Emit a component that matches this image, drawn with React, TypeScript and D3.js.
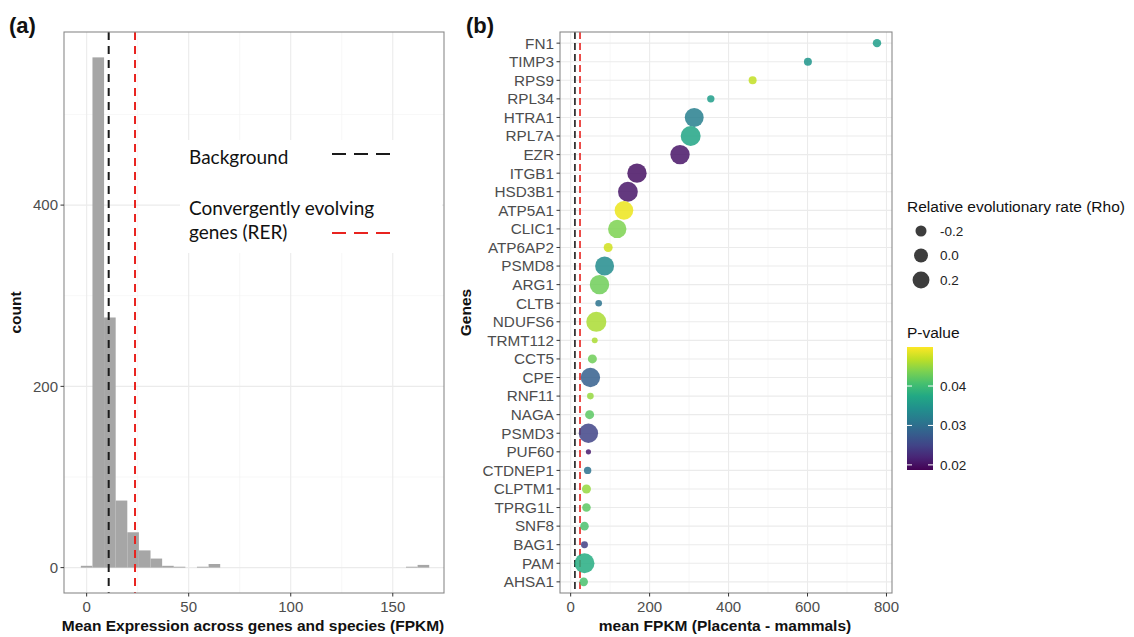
import React, { useRef, useEffect } from 'react';
import * as d3 from 'd3';

// (a) histogram of mean expression, 30 bins starting at -binWidth/2
const histBinWidth = 5.69;
const histCounts = [2, 563, 276, 74, 39, 19, 10, 2, 1, 0, 1, 4, 0, 0, 0, 0, 0, 0, 0, 0, 0, 0, 0, 0, 0, 0, 0, 0, 1, 3];
const histXTicks = [0, 50, 100, 150];
const histYTicks = [0, 200, 400];
const backgroundMean = 10.8;
const rerMean = 23.7;

// (b) genes
const genes = ['FN1', 'TIMP3', 'RPS9', 'RPL34', 'HTRA1', 'RPL7A', 'EZR', 'ITGB1', 'HSD3B1', 'ATP5A1', 'CLIC1', 'ATP6AP2', 'PSMD8', 'ARG1', 'CLTB', 'NDUFS6', 'TRMT112', 'CCT5', 'CPE', 'RNF11', 'NAGA', 'PSMD3', 'PUF60', 'CTDNEP1', 'CLPTM1', 'TPRG1L', 'SNF8', 'BAG1', 'PAM', 'AHSA1'];
const meanFpkm = [776, 601, 461, 355, 313, 304, 277, 168, 145, 135, 118, 95, 86, 73, 71, 65, 61, 55, 50, 50, 48, 45, 45, 43, 40, 40, 35, 35, 35, 33];
const rho = [-0.38, -0.41, -0.41, -0.45, 0.34, 0.41, 0.37, 0.37, 0.4, 0.32, 0.3, -0.34, 0.34, 0.37, -0.5, 0.42, -0.55, -0.34, 0.37, -0.5, -0.34, 0.37, -0.6, -0.45, -0.34, -0.37, -0.37, -0.48, 0.41, -0.37];
const pValue = [0.036, 0.035, 0.047, 0.036, 0.032, 0.037, 0.0203, 0.02, 0.0205, 0.049, 0.0437, 0.0477, 0.0337, 0.043, 0.0306, 0.046, 0.046, 0.043, 0.028, 0.045, 0.042, 0.025, 0.021, 0.0305, 0.045, 0.042, 0.041, 0.0245, 0.038, 0.041];
const fpkmTicks = [0, 200, 400, 600, 800];
const rhoLegend = [-0.2, 0.0, 0.2];
const pLegend = [0.02, 0.03, 0.04];

const SANS = 'Liberation Sans, Arial, sans-serif';

const App = () => {
  const ref = useRef(null);

  useEffect(() => {
    const svg = d3.select(ref.current);
    svg.selectAll('*').remove();

    // ---------- panel (a) ----------
    const a = { left: 64, right: 444, top: 32, bottom: 593 };
    const xA = d3.scaleLinear().domain([-11.1, 175.1]).range([a.left, a.right]);
    const yA = d3.scaleLinear().domain([-28, 591]).range([a.bottom, a.top]);

    const gA = svg.append('g');
    gA.append('rect').attr('x', a.left).attr('y', a.top)
      .attr('width', a.right - a.left).attr('height', a.bottom - a.top).attr('fill', 'white');

    // minor grid
    [25, 75, 125].forEach(v => gA.append('line')
      .attr('x1', xA(v)).attr('x2', xA(v)).attr('y1', a.top).attr('y2', a.bottom)
      .attr('stroke', '#f2f2f2').attr('stroke-width', 0.6));
    [100, 300, 500].forEach(v => gA.append('line')
      .attr('x1', a.left).attr('x2', a.right).attr('y1', yA(v)).attr('y2', yA(v))
      .attr('stroke', '#f2f2f2').attr('stroke-width', 0.6));
    histXTicks.forEach(v => gA.append('line')
      .attr('x1', xA(v)).attr('x2', xA(v)).attr('y1', a.top).attr('y2', a.bottom)
      .attr('stroke', '#ebebeb').attr('stroke-width', 1.1));
    histYTicks.forEach(v => gA.append('line')
      .attr('x1', a.left).attr('x2', a.right).attr('y1', yA(v)).attr('y2', yA(v))
      .attr('stroke', '#ebebeb').attr('stroke-width', 1.1));

    // bars
    gA.selectAll('.bar')
      .data(histCounts.map((c, i) => ({ c, x0: (i - 0.5) * histBinWidth, x1: (i + 0.5) * histBinWidth })))
      .enter()
      .append('rect')
      .attr('x', d => xA(d.x0))
      .attr('width', d => xA(d.x1) - xA(d.x0))
      .attr('y', d => yA(d.c))
      .attr('height', d => yA(0) - yA(d.c))
      .attr('fill', '#a6a6a6');

    // mean lines
    gA.append('line').attr('x1', xA(backgroundMean)).attr('x2', xA(backgroundMean))
      .attr('y1', a.top).attr('y2', a.bottom)
      .attr('stroke', '#1a1a1a').attr('stroke-width', 2).attr('stroke-dasharray', '8,6');
    gA.append('line').attr('x1', xA(rerMean)).attr('x2', xA(rerMean))
      .attr('y1', a.top).attr('y2', a.bottom)
      .attr('stroke', '#e8231f').attr('stroke-width', 2).attr('stroke-dasharray', '8,6');

    // inset legend
    const lg = gA.append('g');
    lg.append('rect').attr('x', 180).attr('y', 140).attr('width', 262).attr('height', 113).attr('fill', 'white');
    lg.append('text').attr('x', 189).attr('y', 164).text('Background')
      .attr('font-family', 'Lato, sans-serif').attr('font-size', 19).attr('fill', '#111');
    lg.append('text').attr('x', 189).attr('y', 215).text('Convergently evolving')
      .attr('font-family', 'Lato, sans-serif').attr('font-size', 19).attr('fill', '#111');
    lg.append('text').attr('x', 189).attr('y', 239).text('genes (RER)')
      .attr('font-family', 'Lato, sans-serif').attr('font-size', 19).attr('fill', '#111');
    lg.append('line').attr('x1', 332).attr('x2', 390).attr('y1', 154).attr('y2', 154)
      .attr('stroke', '#1a1a1a').attr('stroke-width', 2.2).attr('stroke-dasharray', '14,8');
    lg.append('line').attr('x1', 332).attr('x2', 390).attr('y1', 233).attr('y2', 233)
      .attr('stroke', '#e8231f').attr('stroke-width', 2.2).attr('stroke-dasharray', '14,8');

    gA.append('rect').attr('x', a.left).attr('y', a.top)
      .attr('width', a.right - a.left).attr('height', a.bottom - a.top)
      .attr('fill', 'none').attr('stroke', '#8a8a8a').attr('stroke-width', 1.1);

    // axes
    histXTicks.forEach(v => {
      gA.append('line').attr('x1', xA(v)).attr('x2', xA(v)).attr('y1', a.bottom).attr('y2', a.bottom + 3.5)
        .attr('stroke', '#333').attr('stroke-width', 1);
      gA.append('text').attr('x', xA(v)).attr('y', 612).attr('text-anchor', 'middle')
        .attr('font-family', SANS).attr('font-size', 15).attr('fill', '#4d4d4d').text(v);
    });
    histYTicks.forEach(v => {
      gA.append('line').attr('x1', a.left - 3.5).attr('x2', a.left).attr('y1', yA(v)).attr('y2', yA(v))
        .attr('stroke', '#333').attr('stroke-width', 1);
      gA.append('text').attr('x', a.left - 6).attr('y', yA(v)).attr('dy', '0.35em').attr('text-anchor', 'end')
        .attr('font-family', SANS).attr('font-size', 15).attr('fill', '#4d4d4d').text(v);
    });
    gA.append('text').attr('x', (a.left + a.right) / 2 - 1).attr('y', 631).attr('text-anchor', 'middle')
      .attr('font-family', SANS).attr('font-weight', 'bold').attr('font-size', 15.5).attr('fill', '#111')
      .text('Mean Expression across genes and species (FPKM)');
    gA.append('text').attr('transform', `translate(21,${(a.top + a.bottom) / 2}) rotate(-90)`)
      .attr('text-anchor', 'middle')
      .attr('font-family', SANS).attr('font-weight', 'bold').attr('font-size', 15.5).attr('fill', '#111')
      .text('count');
    gA.append('text').attr('x', 9).attr('y', 33).attr('font-family', SANS).attr('font-weight', 'bold')
      .attr('font-size', 22).attr('fill', '#111').text('(a)');

    // ---------- panel (b) ----------
    const b = { left: 560, right: 892, top: 32, bottom: 593 };
    const xB = d3.scaleLinear().domain([-27, 814]).range([b.left, b.right]);
    const yB = d3.scalePoint().domain(genes).range([b.top, b.bottom]).padding(0.6);
    const rScale = d3.scaleLinear().domain([-0.6, 0.4]).range([2.6, 9.9]);
    const color = d3.scaleSequential(d3.interpolateViridis).domain([0.0187, 0.0499]);

    const gB = svg.append('g');
    gB.append('rect').attr('x', b.left).attr('y', b.top)
      .attr('width', b.right - b.left).attr('height', b.bottom - b.top).attr('fill', 'white');
    [100, 300, 500, 700].forEach(v => gB.append('line')
      .attr('x1', xB(v)).attr('x2', xB(v)).attr('y1', b.top).attr('y2', b.bottom)
      .attr('stroke', '#f2f2f2').attr('stroke-width', 0.6));
    fpkmTicks.forEach(v => gB.append('line')
      .attr('x1', xB(v)).attr('x2', xB(v)).attr('y1', b.top).attr('y2', b.bottom)
      .attr('stroke', '#ebebeb').attr('stroke-width', 1.1));
    genes.forEach(g => gB.append('line')
      .attr('x1', b.left).attr('x2', b.right).attr('y1', yB(g)).attr('y2', yB(g))
      .attr('stroke', '#ebebeb').attr('stroke-width', 1.1));

    gB.append('line').attr('x1', xB(backgroundMean)).attr('x2', xB(backgroundMean))
      .attr('y1', b.top).attr('y2', b.bottom)
      .attr('stroke', '#1a1a1a').attr('stroke-width', 1.6).attr('stroke-dasharray', '7,4');
    gB.append('line').attr('x1', xB(rerMean)).attr('x2', xB(rerMean))
      .attr('y1', b.top).attr('y2', b.bottom)
      .attr('stroke', '#e8231f').attr('stroke-width', 1.6).attr('stroke-dasharray', '7,4');

    gB.selectAll('.pt')
      .data(genes.map((g, i) => ({ g, x: meanFpkm[i], r: rho[i], p: pValue[i] })))
      .enter()
      .append('circle')
      .attr('cx', d => xB(d.x))
      .attr('cy', d => yB(d.g))
      .attr('r', d => rScale(d.r))
      .attr('fill', d => color(d.p))
      .attr('fill-opacity', 0.85);

    gB.append('rect').attr('x', b.left).attr('y', b.top)
      .attr('width', b.right - b.left).attr('height', b.bottom - b.top)
      .attr('fill', 'none').attr('stroke', '#8a8a8a').attr('stroke-width', 1.1);

    fpkmTicks.forEach(v => {
      gB.append('line').attr('x1', xB(v)).attr('x2', xB(v)).attr('y1', b.bottom).attr('y2', b.bottom + 3.5)
        .attr('stroke', '#333').attr('stroke-width', 1);
      gB.append('text').attr('x', xB(v)).attr('y', 612).attr('text-anchor', 'middle')
        .attr('font-family', SANS).attr('font-size', 15).attr('fill', '#4d4d4d').text(v);
    });
    genes.forEach(g => {
      gB.append('line').attr('x1', b.left - 3.5).attr('x2', b.left).attr('y1', yB(g)).attr('y2', yB(g))
        .attr('stroke', '#333').attr('stroke-width', 1);
      gB.append('text').attr('x', b.left - 6).attr('y', yB(g)).attr('dy', '0.35em').attr('text-anchor', 'end')
        .attr('font-family', SANS).attr('font-size', 15.3).attr('fill', '#4d4d4d').text(g);
    });
    gB.append('text').attr('x', (b.left + b.right) / 2 - 1).attr('y', 631).attr('text-anchor', 'middle')
      .attr('font-family', SANS).attr('font-weight', 'bold').attr('font-size', 15.5).attr('fill', '#111')
      .text('mean FPKM (Placenta - mammals)');
    gB.append('text').attr('transform', `translate(471,${(b.top + b.bottom) / 2}) rotate(-90)`)
      .attr('text-anchor', 'middle')
      .attr('font-family', SANS).attr('font-weight', 'bold').attr('font-size', 15.5).attr('fill', '#111')
      .text('Genes');
    gB.append('text').attr('x', 466).attr('y', 33).attr('font-family', SANS).attr('font-weight', 'bold')
      .attr('font-size', 22).attr('fill', '#111').text('(b)');

    // size legend
    const lx = 907;
    gB.append('text').attr('x', lx).attr('y', 212).attr('font-family', SANS).attr('font-size', 15.5)
      .attr('fill', '#111').text('Relative evolutionary rate (Rho)');
    rhoLegend.forEach((v, i) => {
      const cy = 231 + i * 24.5;
      gB.append('circle').attr('cx', 921).attr('cy', cy).attr('r', rScale(v))
        .attr('fill', '#333').attr('fill-opacity', 0.95);
      gB.append('text').attr('x', 940).attr('y', cy).attr('dy', '0.35em').attr('font-family', SANS)
        .attr('font-size', 13.5).attr('fill', '#222').text(d3.format('.1f')(v).replace('−', '-'));
    });

    // colour bar
    const cb = { x: 907, w: 26, top: 347, bottom: 470 };
    const yC = d3.scaleLinear().domain(color.domain()).range([cb.bottom, cb.top]);
    const grad = svg.append('defs').append('linearGradient').attr('id', 'pgrad')
      .attr('x1', 0).attr('y1', 1).attr('x2', 0).attr('y2', 0);
    d3.range(0, 1.0001, 0.1).forEach(t => {
      grad.append('stop').attr('offset', t)
        .attr('stop-color', color(color.domain()[0] + t * (color.domain()[1] - color.domain()[0])));
    });
    gB.append('text').attr('x', lx).attr('y', 338).attr('font-family', SANS).attr('font-size', 15.5)
      .attr('fill', '#111').text('P-value');
    gB.append('rect').attr('x', cb.x).attr('y', cb.top).attr('width', cb.w).attr('height', cb.bottom - cb.top)
      .attr('fill', 'url(#pgrad)');
    pLegend.forEach(v => {
      gB.append('line').attr('x1', cb.x).attr('x2', cb.x + 5).attr('y1', yC(v)).attr('y2', yC(v))
        .attr('stroke', 'white').attr('stroke-width', 1);
      gB.append('line').attr('x1', cb.x + cb.w - 5).attr('x2', cb.x + cb.w).attr('y1', yC(v)).attr('y2', yC(v))
        .attr('stroke', 'white').attr('stroke-width', 1);
      gB.append('text').attr('x', 940).attr('y', yC(v)).attr('dy', '0.35em').attr('font-family', SANS)
        .attr('font-size', 13.5).attr('fill', '#222').text(d3.format('.2f')(v));
    });
  }, []);

  return (
    <svg ref={ref} width={1134} height={637}
      style={{ position: 'absolute', left: 0, top: 0, background: 'white' }} />
  );
};

export default App;
